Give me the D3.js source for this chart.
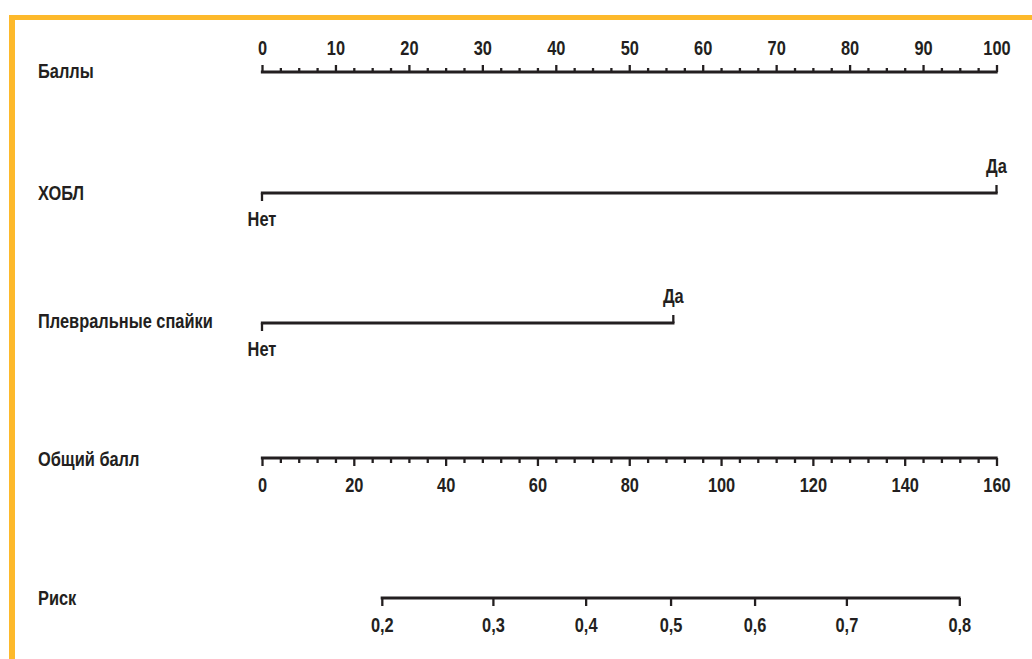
<!DOCTYPE html>
<html>
<head>
<meta charset="utf-8">
<script src="https://cdn.jsdelivr.net/npm/d3@7"></script>
<style>
  html, body { margin: 0; padding: 0; background: #ffffff; }
  svg text { font-family: "Liberation Sans", Arial, sans-serif; font-weight: bold; fill: #231f20; }
</style>
</head>
<body>
<svg id="chart" width="1032" height="659"></svg>
<script>
// Nomogram rows
const rowLabels = ["Баллы", "ХОБЛ", "Плевральные спайки", "Общий балл", "Риск"];

// Points scale (0–100)
const pointsTicks = [0, 10, 20, 30, 40, 50, 60, 70, 80, 90, 100];
const pointsMinorStep = 2.5;

// Predictors: level labels and their points
const copdLevels = ["Нет", "Да"];
const copdPoints = [0, 100];
const adhesionLevels = ["Нет", "Да"];
const adhesionPoints = [0, 56];

// Total points scale (0–160)
const totalTicks = [0, 20, 40, 60, 80, 100, 120, 140, 160];
const totalMinorStep = 4;

// Risk ticks and the total points at which each falls
const riskTicks = [0.2, 0.3, 0.4, 0.5, 0.6, 0.7, 0.8];
const riskTickLabels = ["0,2", "0,3", "0,4", "0,5", "0,6", "0,7", "0,8"];
const riskTotalPoints = [26.1, 50.3, 70.5, 89.0, 107.3, 127.3, 151.9];

const svg = d3.select("#chart");
const ink = "#231f20";
const fontSize = 20.5;
const squeeze = 0.8;   // condensed letterforms
const x0 = 262, x1 = 996.5;

// Frame accent on the top and left edges
svg.append("line").attr("x1", 9).attr("x2", 1032).attr("y1", 17.5).attr("y2", 17.5)
  .attr("stroke", "#fdb92b").attr("stroke-width", 5);
svg.append("line").attr("x1", 12).attr("x2", 12).attr("y1", 15).attr("y2", 659)
  .attr("stroke", "#fdb92b").attr("stroke-width", 6);

const xPoints = d3.scaleLinear().domain([0, 100]).range([x0, x1]);
const xTotal = d3.scaleLinear().domain([0, 160]).range([x0, x1]);

const rowY = { points: 72, copd: 193, adhesion: 323, total: 458, risk: 598 };
const labelY = [78, 200, 328, 466, 605];

function label(x, y, txt, anchor) {
  return svg.append("text")
    .attr("transform", `translate(${x},${y}) scale(${squeeze},1)`)
    .attr("text-anchor", anchor || "start")
    .attr("font-size", fontSize)
    .text(txt);
}

// Row titles
rowLabels.forEach((d, i) => label(38, labelY[i], d));

function styleAxis(g) {
  g.select(".domain").remove();
  g.selectAll(".tick line").attr("stroke", ink).attr("stroke-width", 2.3);
  g.selectAll(".tick text").attr("font-size", fontSize).attr("fill", ink)
    .attr("transform", `scale(${squeeze},1)`)
    .style("font-family", "'Liberation Sans',Arial,sans-serif")
    .style("font-weight", "bold");
}

function baseLine(y, xa, xb) {
  svg.append("line").attr("x1", xa - 1.15).attr("x2", xb + 1.15).attr("y1", y).attr("y2", y)
    .attr("stroke", ink).attr("stroke-width", 2.8);
}

// Points axis: ticks upward, labels above
const pMinor = d3.range(0, 100 + 1e-9, pointsMinorStep).filter(v => !pointsTicks.includes(v));
svg.append("g").attr("transform", `translate(0,${rowY.points})`)
  .call(d3.axisTop(xPoints).tickValues(pMinor).tickSize(4).tickFormat(""))
  .call(styleAxis);
svg.append("g").attr("transform", `translate(0,${rowY.points})`)
  .call(d3.axisTop(xPoints).tickValues(pointsTicks).tickSize(7).tickPadding(10).tickFormat(d3.format("d")))
  .call(styleAxis);
baseLine(rowY.points, x0, x1);

// Categorical predictor rows
function predictor(y, levels, pts) {
  const xs = pts.map(p => xPoints(p));
  baseLine(y, xs[0], xs[xs.length - 1]);
  levels.forEach((lv, i) => {
    const below = i % 2 === 0;
    svg.append("line").attr("x1", xs[i]).attr("x2", xs[i])
      .attr("y1", y).attr("y2", below ? y + 8 : y - 8)
      .attr("stroke", ink).attr("stroke-width", 2.3);
    label(xs[i], below ? y + 33 : y - 20, lv, "middle");
  });
}
predictor(rowY.copd, copdLevels, copdPoints);
predictor(rowY.adhesion, adhesionLevels, adhesionPoints);

// Total points axis: ticks downward, labels below
const tMinor = d3.range(0, 160 + 1e-9, totalMinorStep).filter(v => !totalTicks.includes(v));
svg.append("g").attr("transform", `translate(0,${rowY.total})`)
  .call(d3.axisBottom(xTotal).tickValues(tMinor).tickSize(5).tickFormat(""))
  .call(styleAxis);
svg.append("g").attr("transform", `translate(0,${rowY.total})`)
  .call(d3.axisBottom(xTotal).tickValues(totalTicks).tickSize(8).tickPadding(11).tickFormat(d3.format("d")))
  .call(styleAxis);
baseLine(rowY.total, x0, x1);

// Risk axis placed on the total points scale
const riskAxis = d3.axisBottom(xTotal).tickValues(riskTotalPoints).tickSize(8).tickPadding(11)
  .tickFormat((d, i) => riskTickLabels[i]);
svg.append("g").attr("transform", `translate(0,${rowY.risk})`)
  .call(riskAxis).call(styleAxis);
baseLine(rowY.risk, xTotal(riskTotalPoints[0]), xTotal(riskTotalPoints[riskTotalPoints.length - 1]));
</script>
</body>
</html>
